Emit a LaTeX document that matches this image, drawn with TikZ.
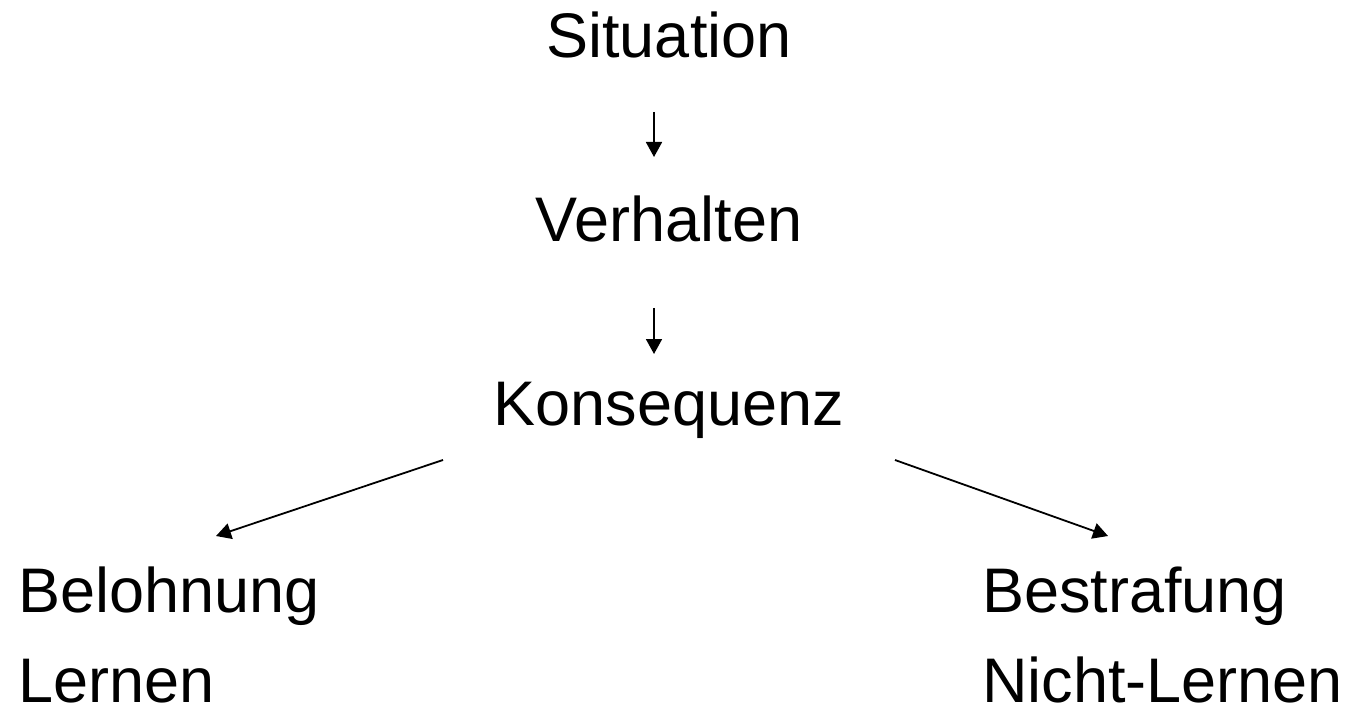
\documentclass[tikz,border=0pt]{standalone}
\usepackage{fontspec}
\setmainfont{Liberation Sans}
\usetikzlibrary{arrows.meta}

\begin{document}
\begin{tikzpicture}[x=1pt,y=-1pt,
  word/.style={inner sep=0pt, font=\fontsize{63}{75}\selectfont},
  arr/.style={line width=1.8pt, -{Triangle[length=15pt,width=16pt]}}]

\useasboundingbox (0,0) rectangle (1348,708);

% chain in the middle
\node[word, anchor=base] (sit) at (669,58) {Situation};
\node[word, anchor=base] (verh) at (669,242) {Verhalten};
\node[word, anchor=base] (kons) at (669,425) {Konsequenz};

% the two outcomes
\node[word, anchor=base west] (bel) at (18,612) {Belohnung};
\node[word, anchor=base west] (lern) at (18,702) {Lernen};
\node[word, anchor=base west] (bes) at (982,612) {Bestrafung};
\node[word, anchor=base west] (nlern) at (982,702) {Nicht-Lernen};

\coordinate (a1) at (654,112);
\coordinate (a2) at (654,157);
\coordinate (b1) at (654,308);
\coordinate (b2) at (654,354);
\coordinate (c1) at (443,460);
\coordinate (c2) at (216,536);
\coordinate (d1) at (895,460);
\coordinate (d2) at (1108,536);

\draw[arr] (a1) -- (a2);
\draw[arr] (b1) -- (b2);
\draw[arr] (c1) -- (c2);
\draw[arr] (d1) -- (d2);

\end{tikzpicture}
\end{document}
